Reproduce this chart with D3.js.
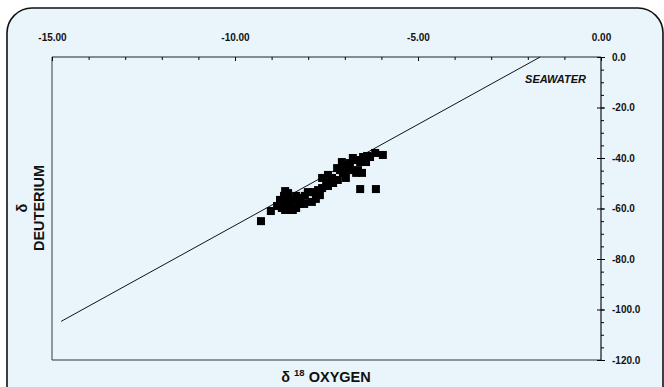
<!DOCTYPE html>
<html>
<head>
<meta charset="utf-8">
<script src="https://cdn.jsdelivr.net/npm/d3@7"></script>
<style>
  body { margin: 0; background: #fff; }
  svg { display: block; }
</style>
</head>
<body>
<script>
// delta 18O and delta D of the samples (per mil)
const oxygen18 = [
  -9.29, -9.02, -8.85, -8.77, -8.66, -8.55, -8.63, -8.50, -8.42, -8.33,
  -8.25, -8.72, -8.63, -8.42, -8.22, -8.09, -8.01, -7.90, -7.87, -7.73,
  -7.62, -7.51, -7.46, -7.62, -7.46, -7.35, -7.21, -7.19, -7.05, -7.13,
  -6.94, -6.86, -6.86, -6.78, -6.67, -6.58, -6.53, -6.69, -6.58, -6.15,
  -6.50, -6.39, -6.31, -6.17, -5.96, -6.42, -6.64, -8.63, -8.77, -8.55,
  -8.33, -8.11, -7.79, -7.68, -7.32, -6.97, -7.08
];
const deuterium = [
  -65.0, -61.0, -59.0, -56.6, -55.0, -53.9, -57.8, -59.4, -56.6, -55.0,
  -58.2, -59.8, -60.6, -60.6, -55.8, -55.0, -53.5, -57.4, -53.5, -52.7,
  -51.9, -49.9, -51.1, -47.9, -46.7, -47.9, -44.0, -48.7, -45.9, -44.8,
  -42.8, -44.8, -42.0, -40.0, -40.8, -41.6, -45.9, -45.9, -52.3, -52.3,
  -39.6, -39.2, -39.6, -38.0, -38.8, -41.6, -44.8, -53.1, -58.6, -56.2,
  -59.8, -58.2, -56.2, -54.7, -49.9, -47.9, -41.6
];

const xTicks = [-15, -10, -5, 0];
const yTicks = [0, -20, -40, -60, -80, -100, -120];

// meteoric water line: dD = slope * d18O + intercept
const lineSlope = 8;
const lineIntercept = 13.3;
const lineStart = -14.75;

function main() {
  const width = 664;
  const height = 387;
  const font = 'Liberation Sans, Arial, Helvetica, sans-serif';

  const svg = d3.select('body').append('svg')
    .attr('width', width)
    .attr('height', height);

  // panel with rounded corners
  svg.append('rect')
    .attr('x', 7)
    .attr('y', 8)
    .attr('width', 656)
    .attr('height', 440)
    .attr('rx', 25)
    .attr('fill', '#eaf5fb')
    .attr('stroke', '#111')
    .attr('stroke-width', 1.6);

  const x = d3.scaleLinear().domain([-15, 0]).range([52, 601]);
  const y = d3.scaleLinear().domain([0, -120]).range([57, 360]);

  // plot frame
  svg.append('line').attr('x1', 52).attr('x2', 52).attr('y1', 57).attr('y2', 360)
    .attr('stroke', '#777').attr('stroke-width', 1.5);
  svg.append('line').attr('x1', 52).attr('x2', 601).attr('y1', 360).attr('y2', 360)
    .attr('stroke', '#333').attr('stroke-width', 1.2);
  svg.append('line').attr('x1', 52).attr('x2', 601).attr('y1', 57).attr('y2', 57)
    .attr('stroke', '#222').attr('stroke-width', 1.2);
  svg.append('line').attr('x1', 601).attr('x2', 601).attr('y1', 57).attr('y2', 360)
    .attr('stroke', '#111').attr('stroke-width', 1.2);

  // top axis, minor then major
  svg.append('g')
    .attr('transform', 'translate(0,57)')
    .call(d3.axisTop(x).tickValues(d3.range(-15, 1, 1)).tickSize(-3).tickFormat(''))
    .call(g => g.select('.domain').remove());

  svg.append('g')
    .attr('transform', 'translate(0,57)')
    .attr('font-family', font)
    .attr('font-size', 12)
    .attr('font-weight', 'bold')
    .call(d3.axisTop(x).tickValues(xTicks).tickSize(-4).tickPadding(16)
      .tickFormat(d => d.toFixed(2)))
    .call(g => g.select('.domain').remove())
    .call(g => g.selectAll('text').attr('fill', '#111'));

  // right axis, minor then major
  svg.append('g')
    .attr('transform', 'translate(601,0)')
    .call(d3.axisRight(y).tickValues(d3.range(0, -121, -5)).tickSize(3).tickFormat(''))
    .call(g => g.select('.domain').remove());

  svg.append('g')
    .attr('transform', 'translate(601,0)')
    .attr('font-family', font)
    .attr('font-size', 12)
    .attr('font-weight', 'bold')
    .call(d3.axisRight(y).tickValues(yTicks).tickSize(4).tickPadding(7)
      .tickFormat(d => d.toFixed(1)))
    .call(g => g.select('.domain').remove())
    .call(g => g.selectAll('line').attr('x1', -4))
    .call(g => g.selectAll('text').attr('fill', '#111'));

  // meteoric water line
  const lineEnd = -lineIntercept / lineSlope;
  svg.append('line')
    .attr('x1', x(lineStart))
    .attr('y1', y(lineSlope * lineStart + lineIntercept))
    .attr('x2', x(lineEnd))
    .attr('y2', y(0))
    .attr('stroke', '#111')
    .attr('stroke-width', 1);

  svg.append('text')
    .attr('x', 586)
    .attr('y', 83)
    .attr('text-anchor', 'end')
    .attr('font-family', font)
    .attr('font-size', 11)
    .attr('font-weight', 'bold')
    .attr('font-style', 'italic')
    .attr('fill', '#111')
    .text('SEAWATER');

  // samples
  const points = d3.zip(oxygen18, deuterium);
  svg.append('g')
    .selectAll('rect')
    .data(points)
    .enter()
    .append('rect')
    .attr('x', d => x(d[0]) - 4)
    .attr('y', d => y(d[1]) - 4)
    .attr('width', 8)
    .attr('height', 8)
    .attr('fill', '#000');

  // axis titles
  const xt = svg.append('text')
    .attr('x', 326)
    .attr('y', 382)
    .attr('text-anchor', 'middle')
    .attr('font-family', font)
    .attr('font-size', 14.5)
    .attr('font-weight', 'bold')
    .attr('fill', '#111');
  xt.append('tspan').text('δ ');
  xt.append('tspan').attr('font-size', 9.5).attr('dy', -6).text('18');
  xt.append('tspan').attr('dy', 6).text(' OXYGEN');

  svg.append('text')
    .attr('transform', 'translate(22,208) rotate(-90)')
    .attr('dy', '0.35em')
    .attr('text-anchor', 'middle')
    .attr('font-family', font)
    .attr('font-size', 14.5)
    .attr('font-weight', 'bold')
    .attr('fill', '#111')
    .text('δ');

  svg.append('text')
    .attr('transform', 'translate(38.5,208) rotate(-90)')
    .attr('dy', '0.35em')
    .attr('text-anchor', 'middle')
    .attr('font-family', font)
    .attr('font-size', 14.5)
    .attr('font-weight', 'bold')
    .attr('fill', '#111')
    .text('DEUTERIUM');
}

main();
</script>
</body>
</html>
